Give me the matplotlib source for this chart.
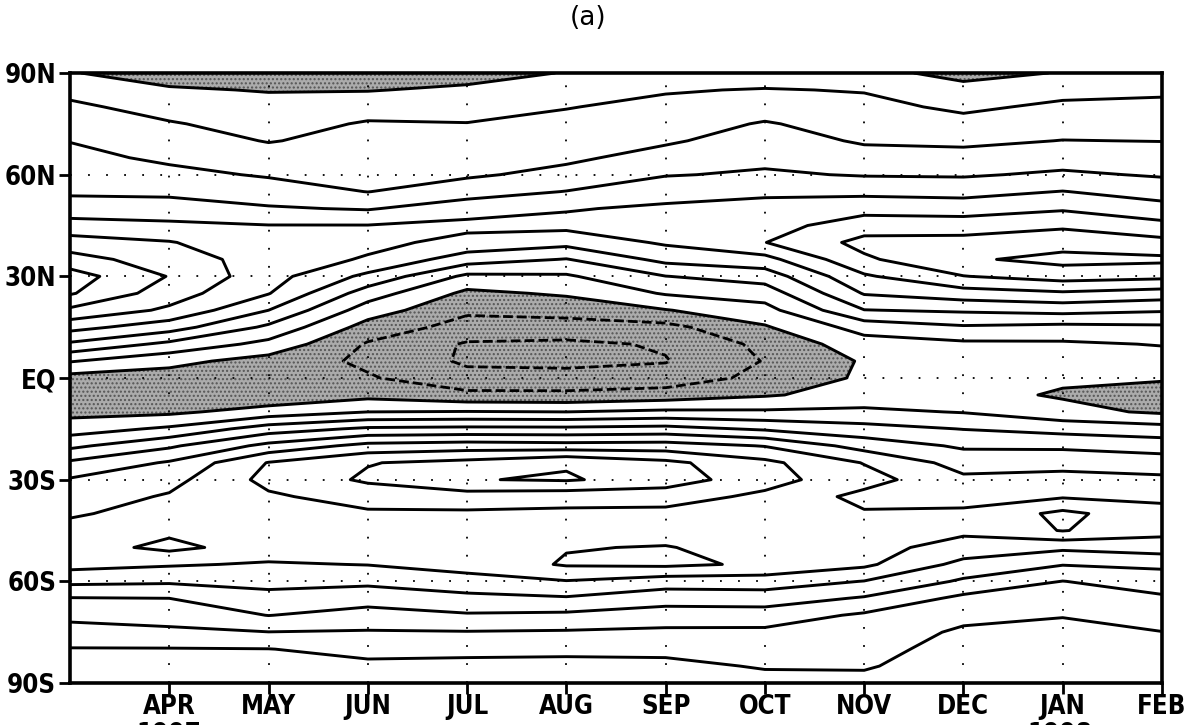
import numpy as np
import matplotlib.pyplot as plt
from matplotlib import font_manager

# monthly columns, Mar 1997 .. Feb 1998, latitude rows 90N .. 90S (5 deg)
months = ['MAR', 'APR', 'MAY', 'JUN', 'JUL', 'AUG', 'SEP', 'OCT', 'NOV', 'DEC', 'JAN', 'FEB']
tick_labels = ['APR', 'MAY', 'JUN', 'JUL', 'AUG', 'SEP', 'OCT', 'NOV', 'DEC', 'JAN', 'FEB']
lats = [90, 85, 80, 75, 70, 65, 60, 55, 50, 45, 40, 35, 30, 25, 20, 15, 10, 5, 0,
        -5, -10, -15, -20, -25, -30, -35, -40, -45, -50, -55, -60, -65, -70, -75, -80, -85, -90]
lat_ticks = [90, 60, 30, 0, -30, -60, -90]
lat_labels = ['90N', '60N', '30N', 'EQ', '30S', '60S', '90S']

mar = [0.05, 0.7, 1.2, 1.6, 1.97, 2.27, 2.56, 2.85, 3.45, 4.4, 5.42, 6.42, 7.45, 7.1, 5.8, 4.35, 2.83, 1.07, -0.35,
       -0.6, -0.3, 0.53, 1.77, 3.17, 4.09, 4.49, 4.89, 5.3, 5.55, 5.35, 4.25, 2.95, 2.27, 1.6, 0.95, 0.6, 0.3]
apr = [-0.4, 0.1, 0.61, 1.08, 1.45, 1.82, 2.26, 2.79, 3.43, 4.2, 5.06, 5.46, 5.95, 5.48, 4.82, 3.45, 1.76, 0.3, -0.45,
       -0.6, -0.2, 1.17, 2.83, 4.11, 4.67, 5.1, 5.35, 5.8, 6.25, 5.1, 4.15, 3.0, 2.43, 1.79, 0.95, 0.6, 0.3]
may = [-0.6, -0.05, 0.3, 0.62, 0.95, 1.42, 1.9, 2.47, 3.1, 4.03, 4.3, 4.6, 4.4, 4.05, 3.0, 1.8, 0.7, -0.4, -0.7,
       -0.75, 0.42, 2.5, 4.29, 6.05, 6.3, 5.85, 5.55, 5.5, 5.55, 4.9, 4.3, 3.68, 3.02, 1.98, 0.98, 0.6, 0.3]
jun = [-0.6, -0.05, 0.6, 1.09, 1.31, 1.54, 1.76, 1.98, 2.92, 4.03, 4.28, 3.89, 2.75, 1.5, 0.5, -0.4, -1.1, -1.2, -0.9,
       -0.3, 1.0, 3.17, 5.32, 6.95, 7.15, 6.43, 5.85, 5.6, 5.45, 5.03, 4.23, 3.4, 2.62, 1.92, 1.28, 0.8, 0.3]
jul = [-0.4, 0.18, 0.61, 1.03, 1.31, 1.58, 1.86, 2.55, 3.56, 4.25, 3.69, 2.48, 0.78, -0.23, -0.83, -1.38, -2.1, -2.15, -1.7,
       -0.75, 1.05, 3.25, 5.5, 7.3, 7.95, 6.55, 5.85, 5.6, 5.6, 5.35, 4.67, 3.7, 2.9, 1.95, 1.25, 0.75, 0.3]
aug = [0.05, 0.5, 0.96, 1.26, 1.54, 1.82, 2.28, 3.03, 3.93, 4.28, 3.33, 1.95, 0.87, 0.14, -0.65, -1.4, -2.2, -2.3, -1.6,
       -0.8, 1.0, 3.23, 5.4, 7.9, 8.1, 6.4, 5.8, 5.55, 5.95, 6.1, 4.95, 3.9, 2.8, 1.9, 1.2, 0.75, 0.3]
sep = [0.5, 0.92, 1.25, 1.56, 1.88, 2.35, 2.94, 3.64, 4.15, 4.3, 4.14, 3.29, 1.98, 1.09, -0.05, -1.3, -1.9, -2.05, -1.6,
       -0.55, 1.2, 3.35, 5.45, 7.25, 7.55, 6.4, 5.75, 5.6, 6.05, 6.2, 4.5, 3.4, 2.55, 1.8, 1.15, 0.85, 0.6]
oct_ = [0.4, 1.06, 1.56, 2.08, 2.42, 2.76, 3.13, 3.86, 4.25, 4.6, 4.98, 3.66, 2.45, 1.46, 0.65, -0.1, -0.75, -0.95, -0.7,
        -0.1, 1.15, 2.85, 4.95, 6.25, 6.35, 5.8, 5.5, 5.45, 5.6, 5.85, 4.5, 3.5, 2.52, 1.8, 1.4, 1.05, 0.8]
nov = [0.3, 0.94, 1.28, 1.58, 1.89, 2.36, 2.93, 3.75, 4.65, 5.53, 6.3, 5.84, 4.86, 4.08, 2.97, 1.41, 0.55, 0.1, 0.15,
       0.4, 1.2, 2.35, 3.6, 4.95, 5.4, 4.7, 5.1, 5.25, 5.35, 5.2, 3.97, 2.9, 1.85, 1.55, 1.35, 1.1, 0.7]
dec = [-0.3, 0.3, 0.81, 1.31, 1.8, 2.33, 2.89, 3.67, 4.54, 5.52, 6.35, 6.85, 5.97, 4.57, 3.14, 1.88, 0.8, 0.45, 0.35,
       0.3, 0.95, 1.97, 2.85, 3.6, 4.2, 4.7, 5.15, 5.2, 4.6, 3.7, 2.85, 1.75, 1.25, 0.85, 0.6, 0.45, 0.3]
jan = [0.05, 0.68, 1.2, 1.61, 2.02, 2.56, 3.16, 4.03, 4.88, 5.84, 6.61, 7.3, 6.43, 4.86, 3.33, 1.72, 0.85, 0.45, 0.15,
       -0.1, 0.3, 1.65, 2.8, 3.7, 4.3, 4.9, 6.25, 6.05, 4.2, 3.05, 1.98, 1.5, 1.05, 0.7, 0.55, 0.4, 0.3]
feb = [0.4, 0.83, 1.23, 1.6, 1.98, 2.44, 2.9, 3.57, 4.34, 5.28, 6.3, 7.2, 6.25, 4.57, 3.1, 1.83, 1.05, 0.6, 0.12,
       -0.5, -0.15, 1.4, 2.55, 3.5, 4.2, 4.8, 5.3, 5.3, 4.5, 3.2, 2.5, 1.85, 1.45, 0.98, 0.75, 0.5, 0.3]

neg_levels = [-2, -1]
pos_levels = [0, 1, 2, 3, 4, 5, 6, 7, 8]

field = np.column_stack([mar, apr, may, jun, jul, aug, sep, oct_, nov, dec, jan, feb])
x = np.arange(len(months))

# narrow bold face for the axis labels, whichever is installed
fonts = font_manager.fontManager.ttflist
if any(f.name == 'Liberation Sans Narrow' for f in fonts):
    lab_font = dict(family='Liberation Sans Narrow', fontsize=20)
elif any(f.name == 'DejaVu Sans' and 'condensed' in str(f.stretch) for f in fonts):
    lab_font = dict(family='DejaVu Sans', stretch='condensed', fontsize=18.5)
else:
    lab_font = dict(family='Liberation Sans', fontsize=17.5)

plt.rcParams['hatch.color'] = '#555555'
plt.rcParams['hatch.linewidth'] = 1.0

fig = plt.figure(figsize=(12.01, 7.25), dpi=100)
ax = fig.add_axes([0.0583, 0.0579, 0.9092, 0.8414])

# stippled area below zero
ax.contourf(x, lats, field, levels=[-10, 0], colors=['#ababab'], hatches=['....'])
ax.contour(x, lats, field, levels=neg_levels, colors='k', linewidths=2.0,
           linestyles=[(0, (3.5, 1.5))])
ax.contour(x, lats, field, levels=pos_levels, colors='k', linewidths=2.1, linestyles='solid')

ax.set_xlim(0, 11)
ax.set_ylim(-90, 90)
ax.set_xticks(range(1, 12))
ax.set_xticklabels(tick_labels)
ax.set_yticks(lat_ticks)
ax.set_yticklabels(lat_labels)
ax.grid(True, linestyle=(0, (1, 9)), linewidth=1.3, color='k')

lab_props = font_manager.FontProperties(
    family=lab_font['family'], stretch=lab_font.get('stretch', 'normal'),
    weight='bold', size=lab_font['fontsize'])
for lab in ax.get_xticklabels() + ax.get_yticklabels():
    lab.set_fontproperties(lab_props)
ax.tick_params(axis='both', direction='out', length=8, width=2)
ax.tick_params(axis='x', pad=0)
ax.tick_params(axis='y', pad=2)

for side in ['left', 'right', 'top', 'bottom']:
    ax.spines[side].set_linewidth(2.6)

# year labels under APR and JAN, only their top edge is inside the picture
fig.text(0.1407, 0.0035, '1997', ha='center', va='top', fontproperties=lab_props)
fig.text(0.8826, 0.0035, '1998', ha='center', va='top', fontproperties=lab_props)

fig.text(0.49, 0.975, '(a)', ha='center', va='center', fontsize=19, family='DejaVu Sans')

fig.savefig('out.png', dpi=100)
